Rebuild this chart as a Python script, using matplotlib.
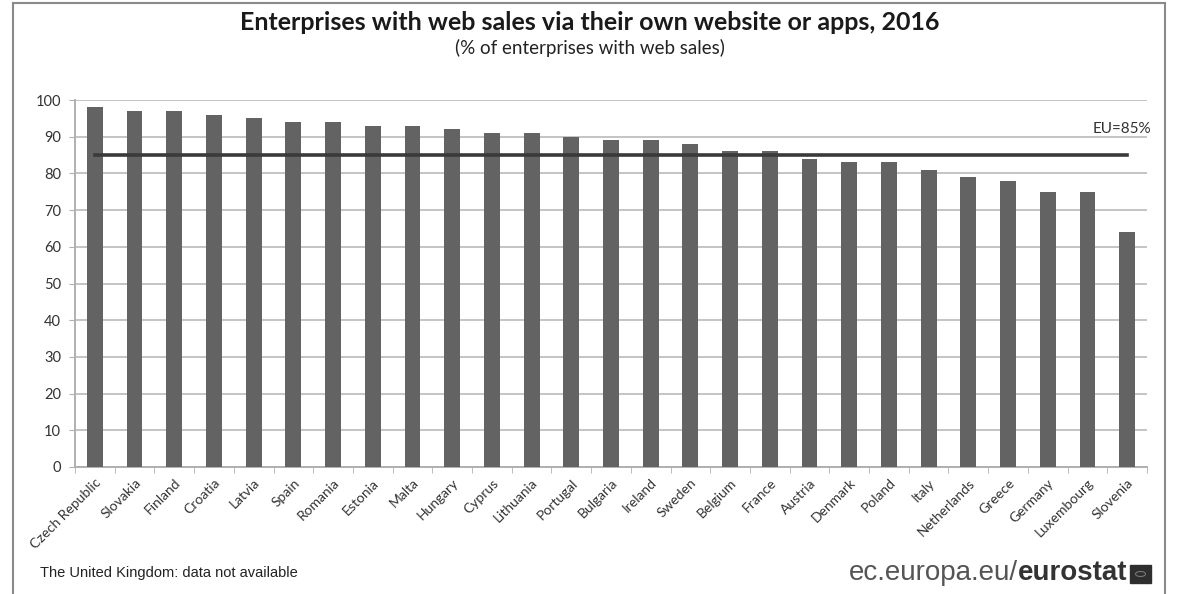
import numpy as np
import matplotlib.pyplot as plt
from matplotlib.lines import Line2D
from matplotlib.patches import Rectangle

countries = ['Czech Republic', 'Slovakia', 'Finland', 'Croatia', 'Latvia', 'Spain',
             'Romania', 'Estonia', 'Malta', 'Hungary', 'Cyprus', 'Lithuania',
             'Portugal', 'Bulgaria', 'Ireland', 'Sweden', 'Belgium', 'France',
             'Austria', 'Denmark', 'Poland', 'Italy', 'Netherlands', 'Greece',
             'Germany', 'Luxembourg', 'Slovenia']
shares = [98, 97, 97, 96, 95, 94, 94, 93, 93, 92, 91, 91, 90, 89, 89, 88, 86, 86,
          84, 83, 83, 81, 79, 78, 75, 75, 64]
eu_avg = 85

W, H = 1179, 594
fig = plt.figure(figsize=(W / 100, H / 100), dpi=100)
ax = fig.add_axes([75 / W, 1 - 467 / H, (1147 - 75) / W, (467 - 100) / H])

x = np.arange(len(countries))
ax.bar(x, shares, width=0.4, color='#636363', zorder=3)
ax.plot([x[0], x[-1]], [eu_avg, eu_avg], color='#3a3a3a', lw=2.6, zorder=4)
ax.text(x[-1] + 0.6, eu_avg + 7, f'EU={eu_avg}%', ha='right', va='center',
        fontsize=11, color='#333333', family='Lato')

ax.set_xlim(-0.5, len(countries) - 0.5)
ax.set_ylim(0, 100)
ax.set_yticks(range(0, 101, 10))
ax.yaxis.grid(True, color='#c4c4c4', lw=1.4, zorder=0)
ax.set_xticks(x)
ax.set_xticklabels(countries, rotation=45, ha='right', rotation_mode='anchor',
                   fontsize=10, color='#333333', family='Lato')
ax.set_xticks(np.arange(-0.5, len(countries), 1), minor=True)
ax.tick_params(axis='x', which='major', length=0, pad=7)
ax.tick_params(axis='x', which='minor', length=4, color='#b0b0b0')
ax.tick_params(axis='y', length=4, color='#b0b0b0', labelsize=10.5,
               labelcolor='#333333', pad=6)
for lbl in ax.get_yticklabels():
    lbl.set_family('Lato')
for side in ['top', 'right']:
    ax.spines[side].set_visible(False)
for side in ['left', 'bottom']:
    ax.spines[side].set_color('#b0b0b0')
    ax.spines[side].set_linewidth(1.4)

# outer frame (open at the bottom)
frame = dict(color='#8a8a8a', lw=1.5, transform=fig.transFigure)
fig.add_artist(Line2D([13 / W, 13 / W], [0, 1 - 3 / H], **frame))
fig.add_artist(Line2D([13 / W, 1165 / W], [1 - 3 / H, 1 - 3 / H], **frame))
fig.add_artist(Line2D([1165 / W, 1165 / W], [0, 1 - 3 / H], **frame))

fig.text(590 / W, 1 - 23 / H, 'Enterprises with web sales via their own website or apps, 2016',
         ha='center', va='center', fontsize=18, fontweight='bold', color='#1a1a1a',
         family='Lato')
fig.text(590 / W, 1 - 48 / H, '(% of enterprises with web sales)',
         ha='center', va='center', fontsize=13.5, color='#222222', family='Lato')

fig.text(40 / W, 1 - 573 / H, 'The United Kingdom: data not available',
         ha='left', va='center', fontsize=10.5, color='#222222', family='Liberation Sans')

brand = fig.text(1127 / W, 1 - 573 / H, 'eurostat', ha='right', va='center',
                 fontsize=20, fontweight='bold', color='#333333', family='Liberation Sans')
fig.canvas.draw()
bb = brand.get_window_extent()
fig.text(bb.x0 / W, 1 - 573 / H, 'ec.europa.eu/', ha='right', va='center',
         fontsize=20, color='#555555', family='Liberation Sans')
fig.add_artist(Rectangle((1130 / W, 1 - 583 / H), 21 / W, 18 / H,
                         transform=fig.transFigure, color='#2e2e2e'))
fig.add_artist(plt.Circle((1140.5 / W, 1 - 574 / H), 5 / W, transform=fig.transFigure,
                          fill=False, ec='#777777', lw=0.8))

fig.savefig('out.png', dpi=100)
